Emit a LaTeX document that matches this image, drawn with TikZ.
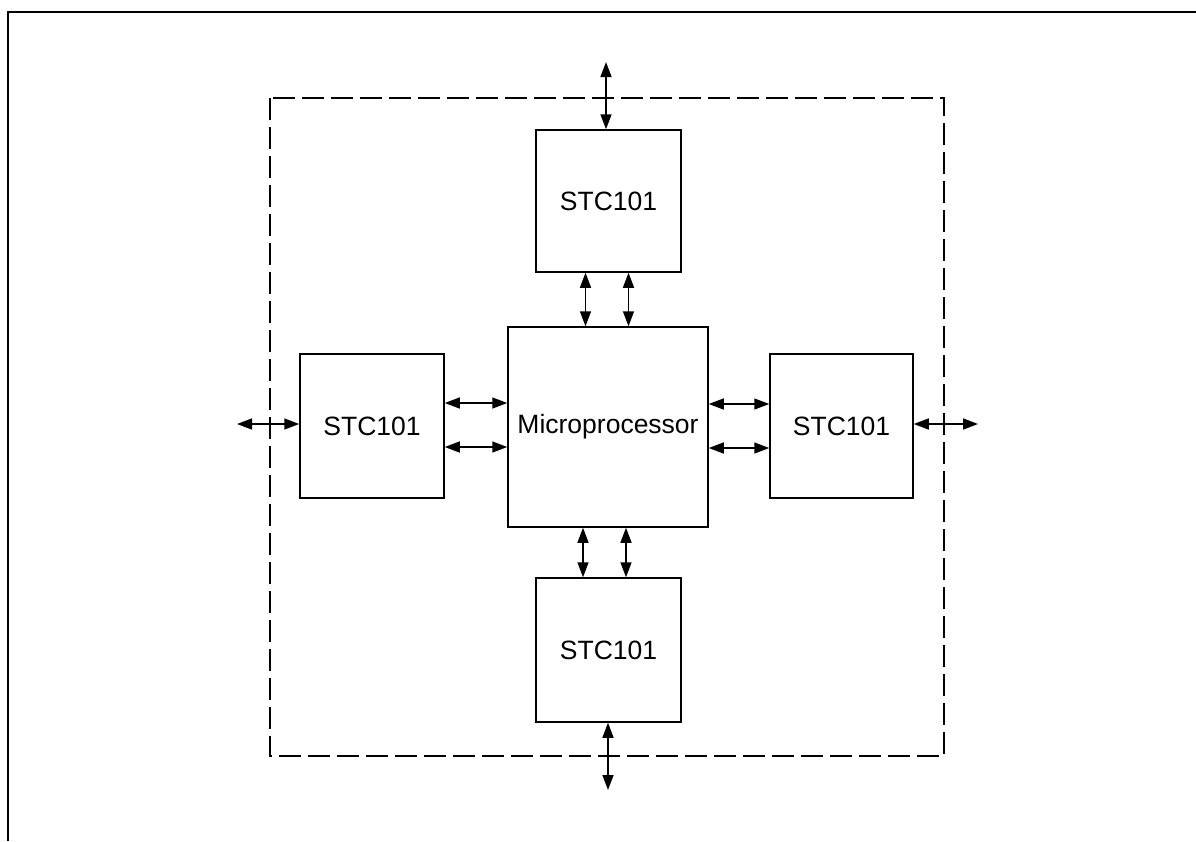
\documentclass[tikz,border=0pt]{standalone}
\usepackage{fontspec}
\setmainfont{Liberation Sans}
\usetikzlibrary{arrows.meta}

\begin{document}
\begin{tikzpicture}[x=1pt, y=-1pt, line width=1.5pt,
  every node/.style={draw,rectangle,inner sep=0pt,font=\fontsize{26.5}{30}\selectfont},
  io/.style={{Triangle[length=15pt,width=11pt]}-{Triangle[length=15pt,width=11pt]}}]
  \useasboundingbox (0,0) rectangle (1196,841);
  % frame and board outline
  \draw[line width=2.5pt] (8,841) -- (8,12) -- (1196,12);
  \draw[dash pattern=on 22pt off 7pt] (270,98) rectangle (944,756);
  % blocks
  \node (mp) [minimum width=200pt,minimum height=200pt] at (608,427) {Microprocessor};
  \node (top) [minimum width=145pt,minimum height=142pt] at (608.5,201) {STC101};
  \node (left) [minimum width=144pt,minimum height=144pt] at (372,426) {STC101};
  \node (right) [minimum width=143pt,minimum height=144pt] at (841.5,426) {STC101};
  \node (bot) [minimum width=145pt,minimum height=144pt] at (608.5,650) {STC101};
  \coordinate (topio) at (606,62);
  \coordinate (leftio) at (237,424);
  \coordinate (rightio) at (978,424);
  \coordinate (botio) at (608,790);
  % external links
  \draw[io] (topio) -- (topio |- top.north);
  \draw[io] (botio |- bot.south) -- (botio);
  \draw[io] (leftio) -- (leftio -| left.west);
  \draw[io] (rightio -| right.east) -- (rightio);
  % links to the microprocessor
  \foreach \d in {-23,20}
    \draw[io] ([xshift=\d]top.south) -- ([xshift=\d]top.south |- mp.north);
  \foreach \d in {-25,18}
    \draw[io] ([xshift=\d]mp.south) -- ([xshift=\d]mp.south |- bot.north);
  \foreach \d in {23,-21} {
    \draw[io] ([yshift=\d]left.east) -- ([yshift=\d]left.east -| mp.west);
    \draw[io] ([yshift=\d]mp.east) -- ([yshift=\d]mp.east -| right.west);
  }
\end{tikzpicture}
\end{document}
